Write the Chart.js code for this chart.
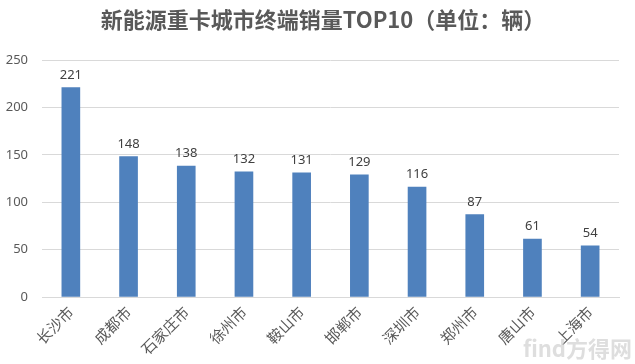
<!DOCTYPE html>
<html lang="zh">
  <head>
    <meta charset="UTF-8" />
    <title>新能源重卡城市终端销量TOP10</title>
    <script src="https://cdn.jsdelivr.net/npm/chart.js"></script>
    <style>
      body {
        margin: 0;
        background: #ffffff;
      }
      .chart-container {
        width: 635px;
        height: 364px;
      }
    </style>
  </head>
  <body>
    <div class="chart-container">
      <canvas id="chart"></canvas>
    </div>

    <script>
      const cities = ["长沙市", "成都市", "石家庄市", "徐州市", "鞍山市", "邯郸市", "深圳市", "郑州市", "唐山市", "上海市"];
      const sales = [221, 148, 138, 132, 131, 129, 116, 87, 61, 54];
      const yTicks = [0, 50, 100, 150, 200, 250];
      const titleText = "新能源重卡城市终端销量TOP10（单位：辆）";

      // 标题：居中在整张图片上，不跟着绘图区走
      const chartTitle = {
        id: "chartTitle",
        afterDraw(chart) {
          const ctx = chart.ctx;
          ctx.save();
          ctx.font = "bold 22px 'Noto Sans CJK SC', sans-serif";
          ctx.fillStyle = "#595959";
          ctx.textAlign = "center";
          ctx.textBaseline = "middle";
          ctx.fillText(titleText, 323, 20);
          ctx.restore();
        },
      };

      // 柱顶数值
      const valueLabels = {
        id: "valueLabels",
        afterDatasetsDraw(chart) {
          const ctx = chart.ctx;
          const meta = chart.getDatasetMeta(0);
          ctx.save();
          ctx.font = "13px 'Noto Sans', sans-serif";
          ctx.fillStyle = "#404040";
          ctx.textAlign = "center";
          ctx.textBaseline = "bottom";
          meta.data.forEach((bar, i) => {
            ctx.fillText(sales[i], bar.x, bar.y - 6);
          });
          ctx.restore();
        },
      };

      // 水印
      const watermark = {
        id: "watermark",
        afterDraw(chart) {
          const ctx = chart.ctx;
          ctx.save();
          ctx.font = "bold 22px 'Noto Sans CJK SC', sans-serif";
          ctx.fillStyle = "rgba(200, 200, 200, 0.6)";
          ctx.textAlign = "right";
          ctx.textBaseline = "bottom";
          ctx.fillText("find方得网", 632, 360);
          ctx.restore();
        },
      };

      new Chart(document.getElementById("chart"), {
        type: "bar",
        data: {
          labels: cities,
          datasets: [
            {
              data: sales,
              backgroundColor: "#4f81bd",
              barThickness: 18,
            },
          ],
        },
        options: {
          responsive: true,
          maintainAspectRatio: false,
          animation: false,
          layout: { padding: { left: 0, right: 16, top: 60, bottom: 0 } },
          plugins: {
            legend: { display: false },
            tooltip: { enabled: false },
            title: { display: false },
          },
          scales: {
            x: {
              grid: { display: false, drawTicks: false },
              border: { color: "#d9d9d9" },
              ticks: {
                color: "#595959",
                font: { family: "'Noto Sans CJK SC', sans-serif", size: 15 },
                minRotation: 45,
                maxRotation: 45,
                padding: 6,
              },
              afterFit(scale) {
                scale.height = 67;
              },
            },
            y: {
              min: 0,
              max: 250,
              afterBuildTicks(scale) {
                scale.ticks = yTicks.map((v) => ({ value: v }));
              },
              grid: { color: "#d9d9d9", drawTicks: false },
              border: { display: false },
              ticks: {
                color: "#595959",
                font: { family: "'Noto Sans', sans-serif", size: 13 },
                padding: 14,
              },
              afterFit(scale) {
                scale.width = 42;
              },
            },
          },
        },
        plugins: [chartTitle, valueLabels, watermark],
      });
    </script>
  </body>
</html>
